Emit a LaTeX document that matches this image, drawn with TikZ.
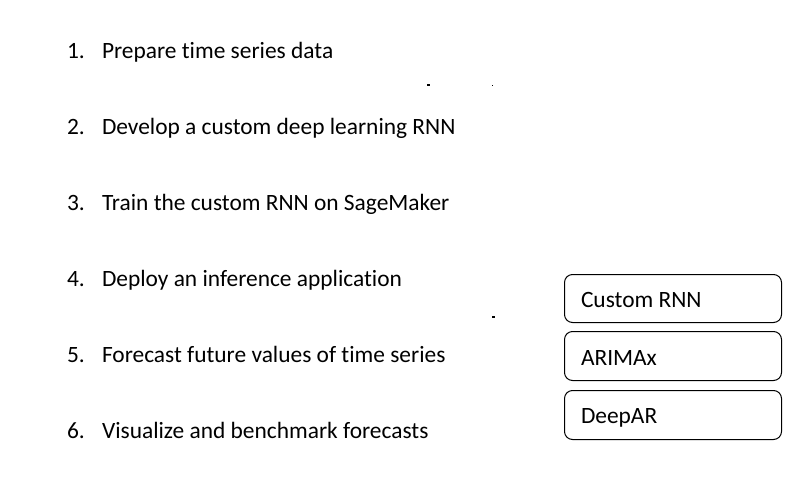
\documentclass[tikz,border=0pt]{standalone}
\usepackage{fontspec}
\setmainfont[Ligatures={NoCommon}]{Carlito}
\begin{document}
\begin{tikzpicture}[x=1pt,y=-1pt,
  every node/.style={inner sep=0pt, outer sep=0pt, font=\fontsize{23.4}{26}\selectfont},
  stepnum/.style={anchor=base west},
  steptext/.style={anchor=base west},
  modelbox/.style={draw=black, line width=1pt, rounded corners=8pt},
  modellabel/.style={anchor=base west},
  speck/.style={fill=black, draw=none}]
\useasboundingbox (0,0) rectangle (800,479);

% numbered workflow steps
\foreach \i/\txt in {1/Prepare time series data,
                     2/Develop a custom deep learning RNN,
                     3/Train the custom RNN on SageMaker,
                     4/Deploy an inference application,
                     5/Forecast future values of time series,
                     6/Visualize and benchmark forecasts} {
  \node[stepnum]  (num\i)  at (67, {58+76*(\i-1)}) {\i.};
  \node[steptext] (step\i) at (102,{58+76*(\i-1)}) {\txt};
}

% model boxes
\draw[modelbox] (564.5,274.5) rectangle (781.5,322.5);
\draw[modelbox] (564.5,331.5) rectangle (781.5,380.5);
\draw[modelbox] (564.5,390.5) rectangle (781.5,439.5);
\node[modellabel] (rnn)    at (581,307) {Custom RNN};
\node[modellabel] (arima)  at (581,365) {ARIMAx};
\node[modellabel] (deepar) at (581,423) {DeepAR};

% small specks
\fill[speck] (427,84) rectangle (429.5,85.5);
\fill[speck] (491.5,84.5) rectangle (493,85.5);
\fill[speck] (492,316) rectangle (494.5,317.5);
\end{tikzpicture}
\end{document}
